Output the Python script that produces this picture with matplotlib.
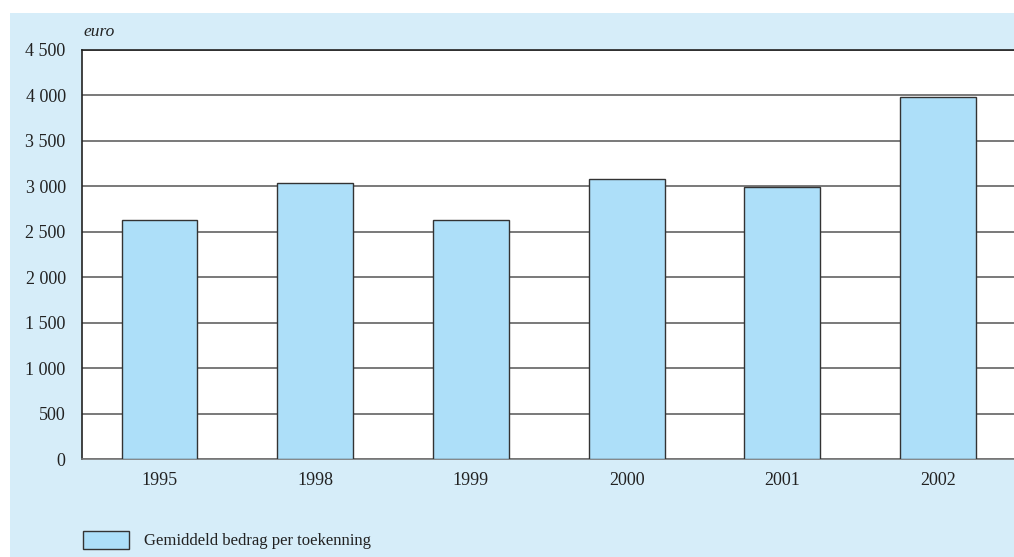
import numpy as np
import matplotlib.pyplot as plt
from matplotlib.patches import Rectangle

years = ['1995', '1998', '1999', '2000', '2001', '2002']
bedrag = [2630, 3030, 2630, 3080, 2990, 3980]
yticks = [0, 500, 1000, 1500, 2000, 2500, 3000, 3500, 4000, 4500]
ylabels = ['0', '500', '1 000', '1 500', '2 000', '2 500', '3 000', '3 500', '4 000', '4 500']

W, H = 1014, 557
plt.rcParams['font.family'] = ['Liberation Serif', 'DejaVu Serif']
fig = plt.figure(figsize=(W / 100, H / 100), dpi=100)
fig.patch.set_facecolor('white')

# light blue panel behind everything
fig.add_artist(Rectangle((10 / W, 0), 1, 1 - 13 / H, transform=fig.transFigure,
                         facecolor='#d6edf9', edgecolor='none', zorder=0))

step = 155.7
left, right, top, bottom = 81.65, 1016, 49.5, 459.3
ax = fig.add_axes([left / W, 1 - bottom / H, (right - left) / W, (bottom - top) / H])
ax.set_facecolor('white')

x = np.arange(len(years))
ax.bar(x, bedrag, width=0.488, color='#addff9', edgecolor='#333333', linewidth=1.0,
       zorder=3, label='Gemiddeld bedrag per toekenning')

ax.set_xlim(-0.5, -0.5 + (right - left) / step)
ax.set_ylim(0, 4500)
ax.set_yticks(yticks)
ax.set_yticklabels(ylabels)
ax.set_xticks(x)
ax.set_xticklabels(years)
ax.yaxis.grid(True, color='#555555', linewidth=1.1, zorder=1)
ax.set_axisbelow(True)
ax.tick_params(axis='y', length=0, pad=11.5, labelsize=13, colors='#222222')
ax.tick_params(axis='x', length=0, pad=9.5, labelsize=13, colors='#222222')

ax.spines['right'].set_visible(False)
ax.spines['top'].set_color('#222222')
ax.spines['left'].set_color('#222222')
ax.spines['bottom'].set_color('#777777')
for s in ['top', 'left', 'bottom']:
    ax.spines[s].set_linewidth(1.2)

fig.text(83 / W, 1 - 32 / H, 'euro', style='italic', fontsize=12.5, va='center',
         ha='left', color='#222222')

leg = ax.legend(loc='center left', bbox_to_anchor=(76 / W, 1 - 540 / H),
                bbox_transform=fig.transFigure, frameon=False, fontsize=12,
                handlelength=2.75, handleheight=1.35, handletextpad=0.95,
                borderaxespad=0)
for t in leg.get_texts():
    t.set_color('#222222')

fig.savefig('out.png', dpi=100)
